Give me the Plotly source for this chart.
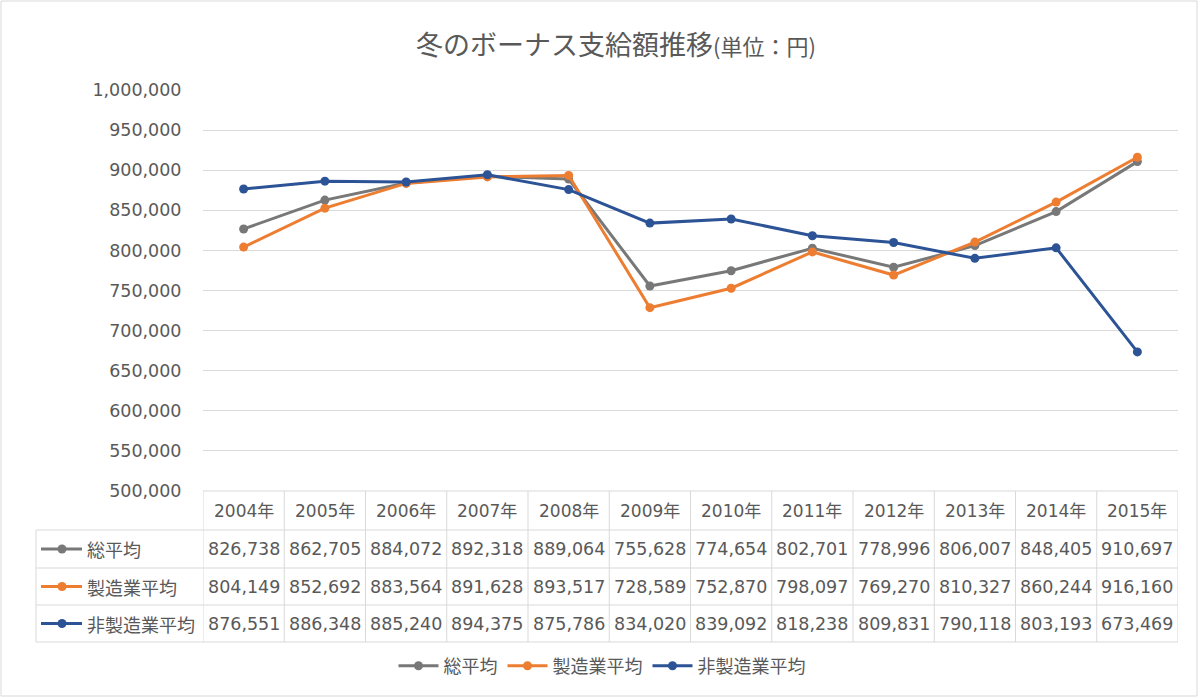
import plotly.graph_objects as go

years = ["2004年", "2005年", "2006年", "2007年", "2008年", "2009年",
         "2010年", "2011年", "2012年", "2013年", "2014年", "2015年"]
series_names = ["総平均", "製造業平均", "非製造業平均"]
total_avg = [826738, 862705, 884072, 892318, 889064, 755628,
             774654, 802701, 778996, 806007, 848405, 910697]
manuf_avg = [804149, 852692, 883564, 891628, 893517, 728589,
             752870, 798097, 769270, 810327, 860244, 916160]
nonmanuf_avg = [876551, 886348, 885240, 894375, 875786, 834020,
                839092, 818238, 809831, 790118, 803193, 673469]
colors = ["#787878", "#ed7d31", "#2c5395"]
series_values = [total_avg, manuf_avg, nonmanuf_avg]

W, H = 1200, 698
def py(p):
    return 1 - p / H
def px(p):
    return p / W

TXT = "#595959"
FONT = "DejaVu Sans, Noto Sans CJK JP"
GRID = "#d9d9d9"

fig = go.Figure()
for name, vals, col in zip(series_names, series_values, colors):
    fig.add_trace(go.Scatter(
        x=list(range(len(years))), y=vals, name=name, mode="lines+markers",
        line=dict(color=col, width=3), marker=dict(color=col, size=9),
    ))

x_left_plot, x_right_plot = 203, 1178
x_label_left = 36
row_edges = [491, 530, 568, 605, 642]

shapes = []
shapes.append(dict(type="rect", xref="paper", yref="paper",
                   x0=px(1), x1=px(1197), y0=py(696), y1=py(1),
                   line=dict(color="#d9d9d9", width=1)))
shapes.append(dict(type="line", xref="paper", yref="paper",
                   x0=px(x_left_plot), x1=px(x_right_plot),
                   y0=py(row_edges[0]), y1=py(row_edges[0]),
                   line=dict(color=GRID, width=1)))
for r in row_edges[1:]:
    shapes.append(dict(type="line", xref="paper", yref="paper",
                       x0=px(x_label_left), x1=px(x_right_plot),
                       y0=py(r), y1=py(r), line=dict(color=GRID, width=1)))
for i in range(len(years) + 1):
    shapes.append(dict(type="line", xref="x", yref="paper",
                       x0=i - 0.5, x1=i - 0.5,
                       y0=py(row_edges[0]), y1=py(row_edges[-1]),
                       line=dict(color=GRID, width=1)))
shapes.append(dict(type="line", xref="paper", yref="paper",
                   x0=px(x_label_left), x1=px(x_label_left),
                   y0=py(row_edges[1]), y1=py(row_edges[-1]),
                   line=dict(color=GRID, width=1)))

annotations = []
for i, yr in enumerate(years):
    annotations.append(dict(x=i, xref="x", y=py((row_edges[0] + row_edges[1]) / 2),
                            yref="paper", text=yr, showarrow=False, yanchor="middle",
                            font=dict(family=FONT, size=17, color=TXT)))
for r, (name, vals, col) in enumerate(zip(series_names, series_values, colors)):
    yc = (row_edges[r + 1] + row_edges[r + 2]) / 2
    for i, v in enumerate(vals):
        annotations.append(dict(x=i, xref="x", y=py(yc), yref="paper", yanchor="middle",
                                text=f"{v:,}", showarrow=False,
                                font=dict(family=FONT, size=17.5, color=TXT)))
    annotations.append(dict(x=px(85), xref="paper", y=py(yc), yref="paper",
                            text=name, showarrow=False, xanchor="left", yanchor="middle",
                            font=dict(family="Noto Sans CJK JP", size=18, color=TXT)))
    shapes.append(dict(type="line", xref="paper", yref="paper",
                       x0=px(41), x1=px(82), y0=py(yc), y1=py(yc),
                       line=dict(color=col, width=3)))
    shapes.append(dict(type="circle", xref="paper", yref="paper",
                       x0=px(57.5), x1=px(66.5), y0=py(yc - 4.5), y1=py(yc + 4.5),
                       fillcolor=col, line=dict(color=col, width=0)))

annotations.append(dict(
    x=px(616), y=py(44), xref="paper", yref="paper", showarrow=False, yanchor="middle",
    text="冬のボーナス支給額推移<span style='font-size:22px'>(単位：円)</span>",
    font=dict(family="Noto Sans CJK JP", size=27, color=TXT)))

fig.update_layout(
    width=W, height=H, margin=dict(l=0, r=0, t=0, b=0, pad=0, autoexpand=False),
    paper_bgcolor="white", plot_bgcolor="white",
    font=dict(family=FONT, color=TXT),
    shapes=shapes, annotations=annotations,
    xaxis=dict(domain=[px(x_left_plot), px(x_right_plot)], range=[-0.5, 11.5],
               showgrid=False, showticklabels=False, zeroline=False, showline=False,
               automargin=False, fixedrange=True),
    yaxis=dict(domain=[py(491), py(90)], range=[500000, 1000000], dtick=50000,
               tickformat=",d", showgrid=True, gridcolor=GRID, gridwidth=1,
               zeroline=False, showline=False, ticks="outside", ticklen=17,
               automargin=False,
               tickcolor="white", tickfont=dict(family=FONT, size=17.5, color=TXT)),
    legend=dict(orientation="h", x=px(602), xanchor="center", y=py(666),
                yanchor="middle", font=dict(family="Noto Sans CJK JP", size=18, color=TXT),
                itemwidth=40, tracegroupgap=0),
    showlegend=True,
)

fig.write_html("out.html")
